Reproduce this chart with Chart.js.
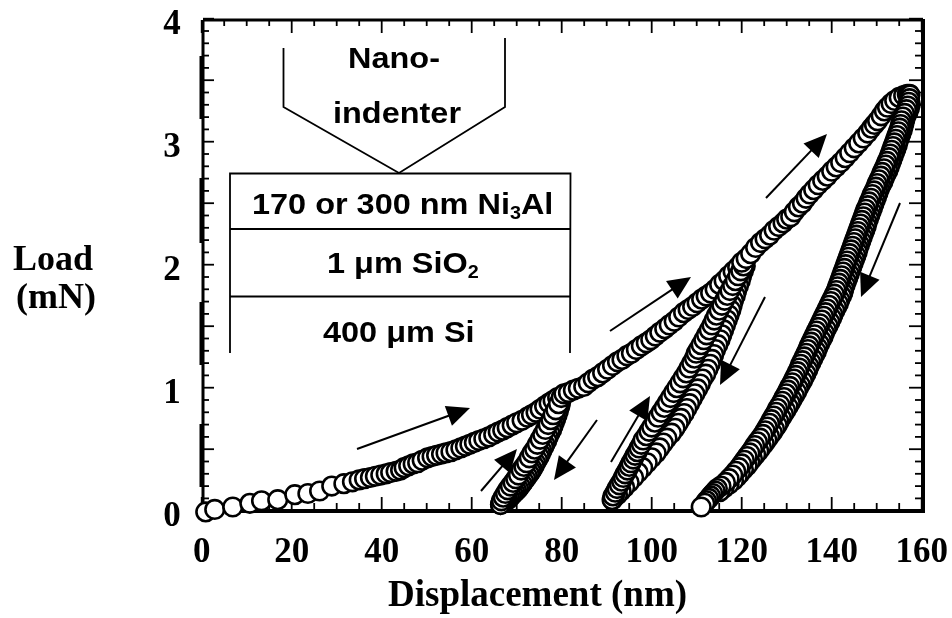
<!DOCTYPE html>
<html><head><meta charset="utf-8">
<style>html,body{margin:0;padding:0;background:#fff}#w{width:952px;height:618px;position:relative}</style>
<script src="https://cdn.jsdelivr.net/npm/chart.js@4"></script></head>
<body><div id="w"><canvas id="c" width="952" height="618"></canvas></div>
<script>
// Load-displacement series (displacement nm, load mN)
const load1Disp=[0.9,2.9,6.9,10.7,13.3,16.9,20.7,23.6,26.2,28.9,31.6,33.5,35,36.2,37.5,38.6,39.8,41,42,43.2,44.2,45,46,47,48,49,50.2,51.2,52.2,53.3,54.3,55.4,56.5,57.6,58.6,59.6,60.6,61.6,62.7,63.8,64.9,65.9,66.9,67.9,69,70,71.2,72.4,73.3,74.3,75.2,76.2,77.2,78.1,79.1];
const load1Load=[-0.01,0.01,0.03,0.06,0.08,0.09,0.13,0.14,0.16,0.2,0.22,0.235,0.25,0.26,0.27,0.28,0.29,0.3,0.31,0.32,0.33,0.35,0.365,0.38,0.39,0.41,0.43,0.44,0.45,0.46,0.47,0.48,0.495,0.51,0.525,0.54,0.555,0.57,0.585,0.6,0.62,0.64,0.655,0.675,0.695,0.715,0.735,0.76,0.78,0.8,0.825,0.85,0.875,0.895,0.92];
const unload1Disp=[80,79.8,79.6,79.3,79,78.7,78.4,78.1,77.8,77.4,77,76.7,76.3,76,75.6,75.3,75,74.6,74.2,73.9,73.5,73.2,72.8,72.4,72,71.6,71.2,70.8,70.4,70,69.6,69.2,68.8,68.4,68,67.6,67.2,66.8,66.4];
const unload1Load=[0.92,0.885,0.85,0.815,0.78,0.75,0.72,0.69,0.66,0.63,0.6,0.57,0.54,0.515,0.49,0.465,0.44,0.415,0.39,0.365,0.34,0.32,0.3,0.28,0.26,0.24,0.22,0.2,0.18,0.165,0.15,0.135,0.12,0.105,0.09,0.08,0.07,0.06,0.05];
const reload1Disp=[66.4,66.6,67,67.5,68,68.6,69.2,69.8,70.4,71,71.6,72.2,72.8,73.4,74,74.6,75.2,75.8,76.4,77,77.6,78.1,78.7,79.3,79.9,80.5];
const reload1Load=[0.05,0.08,0.11,0.14,0.17,0.2,0.23,0.26,0.29,0.33,0.36,0.39,0.43,0.47,0.5,0.54,0.58,0.62,0.66,0.7,0.74,0.78,0.82,0.87,0.92,0.95];
const load2Disp=[81.5,82.6,83.7,84.9,85.9,87,88,89.1,90.2,91.3,92.4,93.4,94.5,95.5,96.6,97.7,98.8,99.8,100.8,101.8,102.9,103.9,105,106,107.1,108.1,109.1,110.1,111.1,112.1,113.1,114.1,115.1,116.1,117.1,118.1,119.1];
const load2Load=[0.96,0.98,0.995,1.01,1.04,1.07,1.09,1.12,1.15,1.18,1.21,1.23,1.26,1.28,1.31,1.34,1.365,1.39,1.42,1.45,1.48,1.51,1.54,1.575,1.61,1.635,1.66,1.69,1.72,1.745,1.77,1.8,1.84,1.87,1.91,1.945,1.98];
const unload2Disp=[120.8,120.4,120,119.7,119.3,118.9,118.6,118.2,117.9,117.6,117.2,116.8,116.4,116,115.6,115.2,114.7,114.2,113.8,113.4,113,112.5,112,111.3,110.8,110.2,109.6,109,108.4,107.8,107.2,106.5,105.9,105.2,104.4,103.4,102.6,101.8,101,100,99,98,97,96,95,94,93.2,92.4,91.7,91.3];
const unload2Load=[1.99,1.95,1.91,1.87,1.83,1.79,1.75,1.71,1.67,1.63,1.59,1.55,1.51,1.47,1.43,1.39,1.35,1.31,1.27,1.23,1.19,1.15,1.11,1.07,1.03,0.99,0.95,0.91,0.87,0.83,0.79,0.75,0.71,0.67,0.63,0.59,0.55,0.51,0.47,0.43,0.39,0.35,0.31,0.27,0.23,0.19,0.16,0.13,0.11,0.09];
const reload2Disp=[91.2,91.4,91.9,92.3,92.8,93.3,93.7,94.1,94.6,95,95.4,95.9,96.3,96.8,97.2,97.7,98.1,98.8,99.4,100,100.7,101.4,102.1,102.8,103.5,104.2,104.9,105.6,106.3,107,107.7,108.3,108.9,109.5,109.9,110.4,111,111.6,112.2,112.8,113.4,113.9,114.4,115,115.6,116.2,116.8,117.4,118,118.6,119.2,119.8,120.4];
const reload2Load=[0.09,0.12,0.15,0.18,0.21,0.24,0.27,0.3,0.33,0.36,0.39,0.42,0.45,0.48,0.51,0.54,0.575,0.61,0.645,0.68,0.72,0.76,0.8,0.84,0.88,0.92,0.96,1,1.04,1.08,1.12,1.16,1.2,1.24,1.28,1.31,1.35,1.39,1.43,1.47,1.51,1.55,1.59,1.63,1.67,1.71,1.75,1.79,1.83,1.87,1.91,1.95,1.99];
const load3Disp=[120,121,122,123.1,124.2,125.2,126.2,127.2,128.2,129.2,130,130.9,131.7,132.6,133.5,134.3,135.1,136,137,138,139,140,141,142,143,144,145,146,147,148,148.8,149.5,150.2,151,151.7,152.4,153.2,154,155,156,156.8,157.3];
const load3Load=[2.02,2.05,2.09,2.14,2.18,2.21,2.24,2.28,2.31,2.34,2.37,2.39,2.43,2.47,2.5,2.54,2.575,2.61,2.65,2.685,2.72,2.76,2.795,2.83,2.87,2.91,2.95,2.99,3.03,3.07,3.11,3.14,3.17,3.21,3.25,3.28,3.31,3.335,3.36,3.375,3.385,3.385];
// right-hand edge of the wide final unloading band
const unload3EdgeDisp=[157.5,157.3,157,156.6,156.3,156.1,155.9,155.7,155.4,155.1,154.8,154.6,154.3,154,153.7,153.4,153.1,152.8,152.5,152.1,151.7,151.4,151,150.6,150.3,150,149.7,149.4,149.1,148.8,148.5,148.2,147.9,147.7,147.4,147.1,146.8,146.5,146.2,145.9,145.7,145.4,145.1,144.8,144.5,144.2,143.9,143.6,143.3,143,142.7,142.5,142.2,141.8,141.5,141.1,140.7,140.3,140,139.6,139.2,138.8,138.4,138.1,137.7,137.3,136.9,136.6,136.2,135.8,135.4,135,134.7,134.3,133.9,133.5,133,132.6,132.2,131.7,131.2,130.8,130.3,129.8,129.3,128.8,128.3,127.9,127.3,126.8,126.2,125.6,125,124.4,123.8,123.1,122.4,121.8,121.2,120.4,119.7,119,118.2,117.2,116.1,115.1];
const unload3EdgeLoad=[3.305,3.275,3.245,3.215,3.185,3.155,3.125,3.095,3.065,3.035,3.005,2.975,2.945,2.915,2.885,2.855,2.825,2.795,2.765,2.735,2.705,2.675,2.645,2.615,2.585,2.555,2.525,2.495,2.465,2.435,2.405,2.375,2.345,2.315,2.285,2.255,2.225,2.195,2.165,2.135,2.105,2.075,2.045,2.015,1.985,1.955,1.925,1.895,1.865,1.835,1.805,1.775,1.745,1.715,1.685,1.655,1.625,1.595,1.565,1.535,1.505,1.475,1.445,1.415,1.385,1.355,1.325,1.295,1.265,1.235,1.205,1.175,1.145,1.115,1.085,1.055,1.025,0.995,0.965,0.935,0.905,0.875,0.845,0.815,0.785,0.755,0.725,0.695,0.665,0.635,0.605,0.575,0.545,0.515,0.485,0.455,0.425,0.395,0.365,0.335,0.305,0.275,0.245,0.215,0.185,0.155];
const unload3Disp=[157.4,157.3,157.1,156.9,156.6,156.2,155.8,155.5,155.3,155.1,154.8,154.5,154.2,153.9,153.6,153.3,153,152.7,152.3,152,151.6,151.2,150.9,150.5,150.1,149.8,149.4,149,148.7,148.3,148,147.6,147.3,147,146.7,146.4,146.1,145.8,145.5,145.2,144.9,144.6,144.3,144,143.7,143.4,143.1,142.8,142.5,142.2,141.9,141.6,141.3,141,140.6,140.2,139.8,139.4,139,138.6,138.2,137.8,137.4,137,136.6,136.2,135.8,135.4,135,134.7,134.3,133.9,133.5,133.1,132.8,132.4,132,131.6,131.2,130.7,130.3,129.9,129.4,129,128.5,128,127.6,127.1,126.6,126.2,125.7,125.2,124.7,124.1,123.5,122.9,122.4,121.8,121.2,120.6,120,119.4,118.7,118,117.2,116.4,115.4,114.6,114.1,113.6,113.1,112.7,112.2,111.8,111];
const unload3Load=[3.38,3.35,3.32,3.29,3.26,3.23,3.2,3.17,3.14,3.11,3.08,3.05,3.02,2.99,2.96,2.93,2.9,2.87,2.84,2.81,2.78,2.75,2.72,2.69,2.66,2.63,2.6,2.57,2.54,2.51,2.48,2.45,2.42,2.39,2.36,2.33,2.3,2.27,2.24,2.21,2.18,2.15,2.12,2.09,2.06,2.03,2,1.97,1.94,1.91,1.88,1.85,1.82,1.79,1.76,1.73,1.7,1.67,1.64,1.61,1.58,1.55,1.52,1.49,1.46,1.43,1.4,1.37,1.34,1.31,1.28,1.25,1.22,1.19,1.16,1.13,1.1,1.07,1.04,1.01,0.98,0.95,0.92,0.89,0.86,0.83,0.8,0.77,0.74,0.71,0.68,0.65,0.62,0.59,0.56,0.53,0.5,0.47,0.44,0.41,0.38,0.35,0.32,0.29,0.26,0.23,0.2,0.18,0.16,0.14,0.12,0.1,0.08,0.06,0.03];
const xLabelEvery=20, yLabelEvery=1;

const allDisp=[...load1Disp,...unload1Disp,...reload1Disp,...load2Disp,...unload2Disp,...reload2Disp,...load3Disp,...unload3EdgeDisp,...unload3Disp];
const allLoad=[...load1Load,...unload1Load,...reload1Load,...load2Load,...unload2Load,...reload2Load,...load3Load,...unload3EdgeLoad,...unload3Load];
const points=allDisp.map((x,i)=>({x,y:allLoad[i]}));

const SERIF='"Liberation Serif"', SANS='"Liberation Sans"';
function seg(c,x1,y1,x2,y2){c.beginPath();c.moveTo(x1,y1);c.lineTo(x2,y2);c.stroke();}
function arrow(c,x1,y1,x2,y2){
  const a=Math.atan2(y2-y1,x2-x1),L=23,W=10.5;
  c.lineWidth=2;seg(c,x1,y1,x2-Math.cos(a)*L*.7,y2-Math.sin(a)*L*.7);
  c.beginPath();c.moveTo(x2,y2);
  c.lineTo(x2-L*Math.cos(a)+W*Math.sin(a),y2-L*Math.sin(a)-W*Math.cos(a));
  c.lineTo(x2-L*Math.cos(a)-W*Math.sin(a),y2-L*Math.sin(a)+W*Math.cos(a));
  c.closePath();c.fill();
}
const framePlugin={id:'frame',beforeDatasetsDraw(ch){
  const c=ch.ctx,sx=ch.scales.x,sy=ch.scales.y,L=203,R=923,T=20,B=511;
  c.save();c.strokeStyle='#000';c.lineCap='butt';
  c.lineWidth=1.8;
  sx.ticks.forEach(t=>{const p=sx.getPixelForValue(t.value),maj=t.value%20===0;
    seg(c,p,B,p,B-(maj?14:8));seg(c,p,T,p,T+(maj?13:6));});
  sy.ticks.forEach(t=>{const p=sy.getPixelForValue(t.value),maj=Math.abs(t.value*2-Math.round(t.value*2))<1e-6;
    seg(c,L,p,L+(maj?11:6),p);seg(c,R,p,R-(maj?14:8),p);});
  c.lineWidth=3;seg(c,L,T,R,T);seg(c,L,T,L,B+3);
  c.lineWidth=4;seg(c,L-2,B,R+2,B);seg(c,R,T-1,R,B+2);
  // heavier stretches of the left spine
  c.lineWidth=3;[[56,119],[178,243],[302,365],[424,487]].forEach(s=>seg(c,201,s[0],201,s[1]));
  c.restore();
}};
const notePlugin={id:'notes',afterDatasetsDraw(ch){
  const c=ch.ctx;c.save();c.strokeStyle='#000';c.fillStyle='#000';c.lineWidth=1.8;
  c.beginPath();c.moveTo(283.5,48);c.lineTo(283.5,107);c.lineTo(399,173);c.lineTo(505,107);c.lineTo(505,38);c.stroke();
  c.beginPath();c.moveTo(230,353);c.lineTo(230,173.5);c.lineTo(570.5,173.5);c.lineTo(570,353);c.stroke();
  seg(c,230,229,570.5,229);seg(c,230,296.5,570.5,296.5);
  [[357,449,470,408],[481,491,517,449],[610,331,691,277],[597,420,554,480],[611,462,650,396],[765,297,720,385],[900,203,861,297],[766,198,827,134]]
    .forEach(a=>arrow(c,a[0],a[1],a[2],a[3]));
  const F=29.5,SX=1.1;c.textBaseline='alphabetic';c.textAlign='left';
  const center=(t,x,y)=>{c.textAlign='center';c.fillText(t,x,y);c.textAlign='left';};
  const run=(parts,x,y)=>{c.save();c.translate(x,y);c.scale(SX,1);let u=0;parts.forEach(p=>{c.font=`bold ${p[1]?18:F}px ${SANS}`;c.fillText(p[0],u,p[1]?5:0);u+=c.measureText(p[0]).width;});c.restore();};
  run([['Nano-']],348,68);
  run([['indenter']],333,123);
  run([['170 or 300 nm Ni'],['3',1],['Al']],252,214);
  run([['1 μm SiO'],['2',1]],327,273);
  run([['400 μm Si']],323,342);
  c.font=`bold 36px ${SERIF}`;
  center('Load',53,270);center('(mN)',56,308);
  c.font=`bold 37px ${SERIF}`;
  center('Displacement (nm)',537.5,606);
  c.restore();
}};
const noPad=s=>{s.paddingLeft=s.paddingRight=s.paddingTop=s.paddingBottom=0;};
new Chart(document.getElementById('c'),{
  type:'scatter',
  data:{datasets:[{label:'Load',data:points,showLine:false,pointRadius:9.3,pointHoverRadius:9.3,pointBorderWidth:2.6,pointBackgroundColor:'#fff',pointBorderColor:'#000',clip:false}]},
  options:{responsive:false,animation:false,events:[],
    layout:{autoPadding:false,padding:{left:0,right:30.3,top:18.7,bottom:0}},
    plugins:{legend:{display:false},tooltip:{enabled:false},title:{display:false}},
    scales:{
      x:{type:'linear',min:0,max:160,grid:{display:false,drawTicks:false},border:{display:false},
        afterFit:s=>{s.height=107.3;noPad(s);},
        ticks:{stepSize:5,autoSkip:false,maxRotation:0,padding:21,color:'#000',font:{family:SERIF,weight:'bold',size:35},
          callback:v=>v%xLabelEvery===0?String(v):''}},
      y:{type:'linear',min:0,max:4,grid:{display:false,drawTicks:false},border:{display:false},
        afterFit:s=>{s.width=201.7;noPad(s);},
        ticks:{stepSize:0.1,autoSkip:false,padding:21,labelOffset:6,color:'#000',font:{family:SERIF,weight:'bold',size:35},
          callback:v=>Math.abs(v/yLabelEvery-Math.round(v/yLabelEvery))<1e-6?String(Math.round(v)):''}}
    }},
  plugins:[framePlugin,notePlugin]
});
</script></body></html>
